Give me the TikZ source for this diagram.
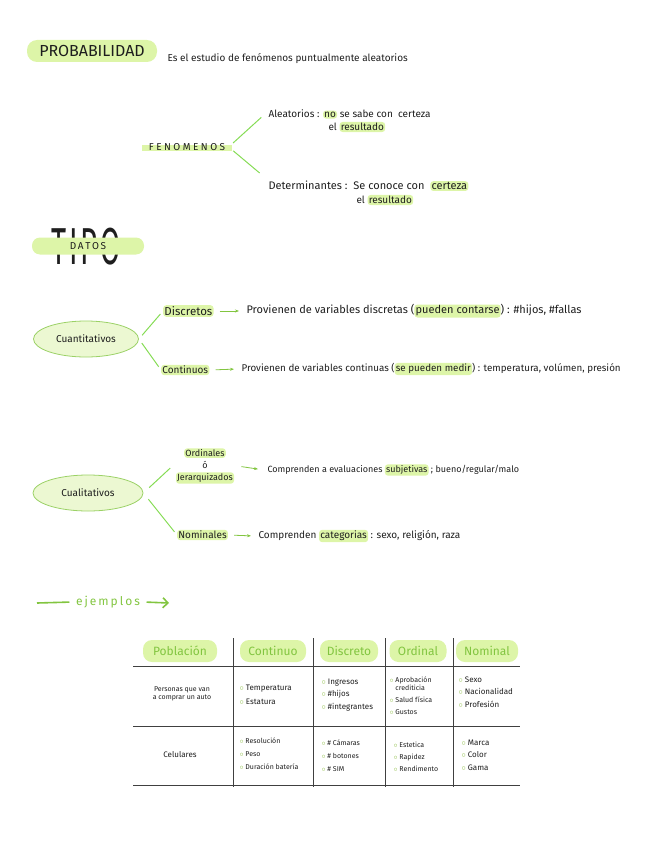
\documentclass[tikz,border=0pt]{standalone}
\usepackage{fontspec}
\setmainfont{Fira Sans}
\usetikzlibrary{positioning,arrows.meta,shapes.geometric}
\definecolor{marker}{HTML}{DDF5A8}
\definecolor{softfill}{HTML}{ECF8D2}
\definecolor{branch}{HTML}{86DC55}
\definecolor{inkgreen}{HTML}{82C540}
\definecolor{ink}{HTML}{1E1E1E}
\tikzset{
  every node/.style={font=\small, text=ink},
  hlbox/.style={fill=marker, rounded corners=3pt, inner sep=1.2pt},
  branchline/.style={draw=branch, line width=1pt},
  tiparrow/.style={-{Stealth[length=4pt]}, draw=inkgreen, line width=0.8pt},
  oval/.style={ellipse, draw=inkgreen!80, fill=softfill, line width=0.8pt,
    minimum width=105pt, minimum height=36pt, font=\normalsize},
  pill/.style={fill=marker, rounded corners=9pt, minimum height=22pt,
    text=inkgreen, font=\large},
  cell/.style={anchor=west, align=left, font=\scriptsize},
  grid/.style={draw=ink!85, line width=0.8pt}
}
\newcommand{\hl}[1]{\tikz[baseline=(hw.base)]\node[hlbox, font=](hw){#1};}
\newcommand{\bul}{\textcolor{inkgreen!80!olive}{$\circ$}\ }

\begin{document}
\begin{tikzpicture}[x=1pt,y=-1pt]
\useasboundingbox (0,0) rectangle (655,848);

% titulo
\node[hlbox, rounded corners=10pt, minimum width=130pt, minimum height=22pt,
  font=\fontsize{16}{16}\selectfont] (prob) at (92,51) {PROBABILIDAD};
\node[anchor=west, font=\normalsize] (def) at (164,59)
  {Es el estudio de fenómenos puntualmente aleatorios};

% fenomenos
\node[fill=marker, inner sep=0pt, minimum width=90pt, minimum height=6pt]
  (fenbar) at (187,148) {};
\node[font={\normalsize\addfontfeatures{LetterSpace=25}}] (fen) at (187,147)
  {FENOMENOS};
\node[anchor=west, font=\normalsize] (ale) at (265,114)
  {Aleatorios : \hl{no} se sabe con\ \ certeza};
\node[anchor=west, font=\normalsize] (ale2) at (325,127) {el \hl{resultado}};
\node[anchor=west, font=\fontsize{11}{13}\selectfont] (det) at (265,186)
  {Determinantes :\ \ Se conoce con\ \ \hl{certeza}};
\node[anchor=west, font=\normalsize] (det2) at (353,200) {el \hl{resultado}};
\draw[branchline, shorten <=6pt, shorten >=5pt] (fen.east) -- (ale.west);
\draw[branchline, shorten <=6pt, shorten >=7pt] (fen.east) -- (det.north west);

% tipo de datos
\node[font={\fontsize{52}{52}\selectfont\addfontfeatures{LetterSpace=10}},
  inner sep=0pt] (tipo) at (86,247) {\scalebox{0.56}[1]{TIPO}};
\node[hlbox, rounded corners=8pt, minimum width=112pt, minimum height=17pt,
  font=\normalsize] (datos) at (88,246) {D\,A\,T\,O\,S};

% cuantitativos
\node[oval] (cuan) at (86,339) {Cuantitativos};
\node[anchor=west, hlbox, font=\fontsize{11.5}{13}\selectfont] (disc) at (163,311) {Discretos};
\node[anchor=west, font=\fontsize{11}{13}\selectfont] (prov1) at (243,311)
  {Provienen de variables discretas (\hl{pueden contarse}) : \#hijos, \#fallas};
\node[anchor=west, hlbox, font=\normalsize] (cont) at (161,370) {Continuos};
\node[anchor=west, font=\fontsize{9.8}{12}\selectfont] (prov2) at (238,369)
  {Provienen de variables continuas (\hl{se pueden medir}) : temperatura, volúmen, presión};
\draw[branchline, shorten <=5pt, shorten >=4pt] (cuan.east) -- (disc.west);
\draw[branchline, shorten <=5pt, shorten >=4pt] (cuan.east) -- (cont.west);
\draw[tiparrow, shorten <=6pt, shorten >=4pt] (disc.east) -- (prov1.west);
\draw[tiparrow, shorten <=6pt, shorten >=4pt] (cont.east) -- (prov2.west);

% cualitativos
\node[oval, minimum width=110pt] (cual) at (88,493) {Cualitativos};
\node[align=center] (ord) at (205,466)
  {\hl{Ordinales}\\[1pt]ó\\[1pt]\hl{Jerarquizados}};
\node[anchor=west] (comp1) at (264,470)
  {Comprenden a evaluaciones \hl{subjetivas} ; bueno/regular/malo};
\node[anchor=west, hlbox, font=\normalsize] (nom) at (177,535) {Nominales};
\node[anchor=west, font=\normalsize] (comp2) at (255,536)
  {Comprenden \hl{categorias} : sexo, religión, raza};
\draw[branchline, shorten <=8pt, shorten >=3pt] (cual.east) -- (ord.west);
\draw[branchline, shorten <=8pt, shorten >=4pt] (cual.east) -- (nom.west);
\draw[tiparrow, shorten <=4pt, shorten >=6pt] (ord.east) -- (comp1.west);
\draw[tiparrow, shorten <=6pt, shorten >=4pt] (nom.east) -- (comp2.west);

% ejemplos
\coordinate (ej0) at (37,603);
\coordinate (ej1) at (169,603);
\node[text=inkgreen, font=\large] (ej) at (108,602) {e\,j\,e\,m\,p\,l\,o\,s};
\draw[inkgreen, line width=1.6pt, shorten >=3pt] (ej0) -- (ej.west);
\draw[inkgreen, line width=1.6pt, shorten <=3pt, -{Straight Barb[length=5pt]}]
  (ej.east) -- (ej1);

% tabla
\foreach \y in {666,726,785}
  \draw[grid] (133,\y) -- (520,\y);
\foreach \x in {233,313,385,453}
  \draw[grid] (\x,638) -- (\x,787);
\node[pill, minimum width=74pt] (hpob) at (180,651) {Población};
\node[pill, minimum width=66pt] (hcont) at (273,651) {Continuo};
\node[pill, minimum width=58pt] (hdisc) at (349,651) {Discreto};
\node[pill, minimum width=57pt] (hord) at (418,651) {Ordinal};
\node[pill, minimum width=62pt] (hnom) at (487,651) {Nominal};

\node[align=center, font=\scriptsize] (pob1) at (182,694)
  {Personas que van\\a comprar un auto};
\node[cell, font=\footnotesize] (cont1) at (236,695)
  {\bul Temperatura\\[5pt]\bul Estatura};
\node[cell, font=\footnotesize] (disc1) at (318,695)
  {\bul Ingresos\\[3pt]\bul \#hijos\\[3pt]\bul \#integrantes};
\node[cell] (ord1) at (386,696)
  {\bul Aprobación\\\phantom{\bul}crediticia\\[4pt]\bul Salud física\\[4pt]\bul Gustos};
\node[cell, font=\footnotesize] (nom1) at (455,692)
  {\bul Sexo\\[3pt]\bul Nacionalidad\\[3pt]\bul Profesión};

\node[font=\footnotesize] (pob2) at (180,755) {Celulares};
\node[cell] (cont2) at (236,754)
  {\bul Resolución\\[5pt]\bul Peso\\[5pt]\bul Duración batería};
\node[cell] (disc2) at (318,756)
  {\bul \# Cámaras\\[5pt]\bul \# botones\\[5pt]\bul \# SIM};
\node[cell] (ord2) at (390,757)
  {\bul Estetica\\[4pt]\bul Rapidez\\[4pt]\bul Rendimento};
\node[cell, font=\footnotesize] (nom2) at (458,755)
  {\bul Marca\\[3pt]\bul Color\\[3pt]\bul Gama};

\end{tikzpicture}
\end{document}
